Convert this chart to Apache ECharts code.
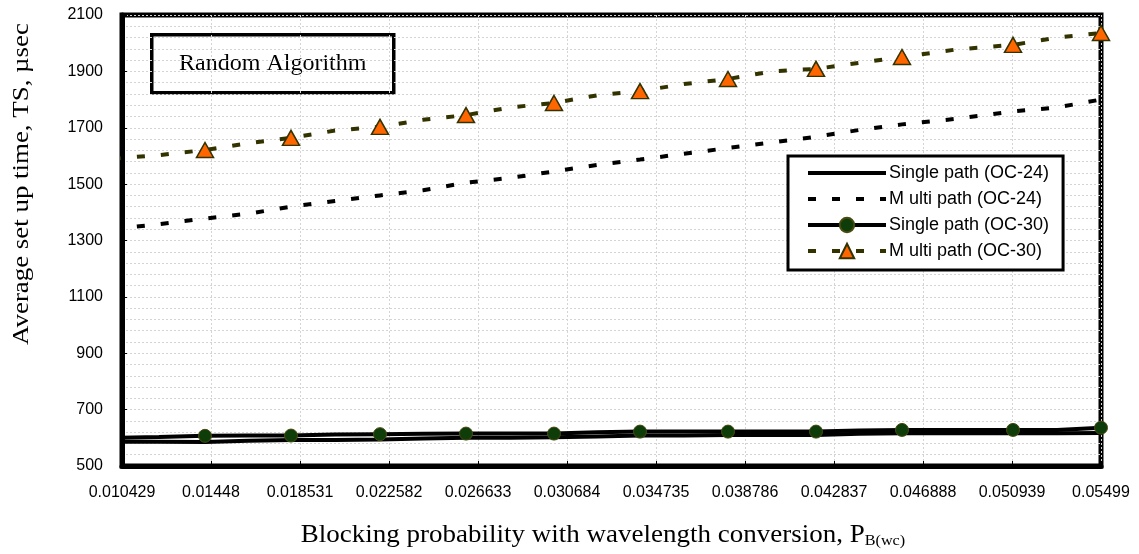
<!DOCTYPE html>
<html>
<head>
<meta charset="utf-8">
<script src="https://cdn.jsdelivr.net/npm/echarts@6/dist/echarts.min.js"></script>
<style>
html,body{margin:0;padding:0;background:#fff;}
#c{width:1139px;height:554px;}
</style>
</head>
<body>
<div id="c"></div>
<script>
// Tick labels of the x axis (blocking probability)
const xTickLabels = ['0.010429','0.01448','0.018531','0.022582','0.026633','0.030684','0.034735','0.038786','0.042837','0.046888','0.050939','0.05499'];
const xTickValues = xTickLabels.map(Number);
const yTickValues = [500, 700, 900, 1100, 1300, 1500, 1700, 1900, 2100];

// x positions of the plotted points
const xValues = [0.010019, 0.012113, 0.014207, 0.016164, 0.018121, 0.020124, 0.022172, 0.024130, 0.026087, 0.028090, 0.030092, 0.032049, 0.034007, 0.036010, 0.038012, 0.040015, 0.042018, 0.043975, 0.045932, 0.048436, 0.050985, 0.052988, 0.054990];

// Average set up time (usec)
const singleOC24 = [586, 586, 585, 590, 592, 592, 594, 598, 600, 600, 602, 605, 608, 608, 610, 610, 610, 614, 616, 616, 616, 616, 617];
const multiOC24  = [1340, 1358, 1378, 1395, 1420, 1440, 1460, 1478, 1505, 1522, 1545, 1568, 1587, 1608, 1628, 1648, 1668, 1692, 1712, 1732, 1758, 1772, 1800];
const singleOC30 = [600, 603, 607, 608, 608, 612, 613, 614, 615, 615, 615, 620, 622, 622, 622, 622, 622, 626, 628, 628, 628, 628, 636];
const multiOC30  = [1590, 1603, 1621, 1645, 1664, 1690, 1703, 1728, 1745, 1772, 1788, 1815, 1830, 1855, 1873, 1900, 1909, 1930, 1951, 1978, 1994, 2020, 2036];

const seriesNames = ['Single path (OC-24)', 'M ulti path (OC-24)', 'Single path (OC-30)', 'M ulti path (OC-30)'];

function pairs(ys) { return ys.map((y, i) => [xValues[i], y]); }
function markerSize(size) {
  return function (val, params) { return (params.dataIndex > 0 && params.dataIndex % 2 === 0) ? size : 0; };
}

const sans = "'Liberation Sans', Arial, sans-serif";
const serif = "'Liberation Serif', 'Times New Roman', serif";
const gridLine = { color: '#d4d4d4', width: 1, type: [2, 2] };

const chart = echarts.init(document.getElementById('c'), null, { renderer: 'canvas' });
chart.setOption({
  animation: false,
  backgroundColor: '#fff',
  grid: { left: 122, right: 38, top: 15, bottom: 88, show: true, borderColor: '#000', borderWidth: 5, backgroundColor: 'transparent' },
  xAxis: {
    type: 'value', min: xTickValues[0], max: xTickValues[xTickValues.length - 1],
    axisLine: { show: true, onZero: false, lineStyle: { color: '#000', width: 5 } },
    axisTick: { show: true, inside: true, length: 5, customValues: xTickValues, lineStyle: { color: '#000', width: 1 } },
    axisLabel: {
      customValues: xTickValues, margin: 19, color: '#000', fontSize: 16, fontFamily: sans,
      formatter: function (v) {
        let best = 0;
        xTickValues.forEach((t, i) => { if (Math.abs(t - v) < Math.abs(xTickValues[best] - v)) best = i; });
        return xTickLabels[best];
      }
    },
    splitLine: { show: true, lineStyle: gridLine }
  },
  yAxis: {
    type: 'value', min: yTickValues[0], max: yTickValues[yTickValues.length - 1], interval: 200,
    axisLine: { show: true, lineStyle: { color: '#000', width: 5 } },
    axisTick: { show: true, inside: true, length: 5, lineStyle: { color: '#000', width: 1 } },
    axisLabel: { margin: 19, color: '#000', fontSize: 16, fontFamily: sans, formatter: function (v) { return String(v); } },
    splitLine: { show: true, lineStyle: gridLine },
    minorTick: { show: false, splitNumber: 5 },
    minorSplitLine: { show: true, lineStyle: gridLine }
  },
  legend: {
    orient: 'vertical', left: 788, top: 156,
    padding: [8, 14, 10, 18],
    backgroundColor: '#fff', borderColor: '#000', borderWidth: 3,
    itemWidth: 78, itemHeight: 18, itemGap: 8,
    lineStyle: { width: 4 },
    textStyle: { color: '#000', fontSize: 18, fontFamily: sans, padding: [0, 0, 0, -2] },
    data: [
      { name: seriesNames[0], itemStyle: { opacity: 0 } },
      { name: seriesNames[1], itemStyle: { opacity: 0 } },
      { name: seriesNames[2] },
      { name: seriesNames[3] }
    ]
  },
  graphic: [
    {
      type: 'group', left: 150, top: 33, z: 100,
      children: [
        { type: 'rect', shape: { x: 0, y: 0, width: 242, height: 58 }, style: { fill: '#fff', stroke: '#000', lineWidth: 3.5 } },
        { type: 'text', x: 121, y: 29, style: { text: 'Random Algorithm', font: "24px " + serif, fill: '#000', align: 'center', verticalAlign: 'middle' } }
      ]
    },
    {
      type: 'text', x: 22, y: 184, rotation: Math.PI / 2, scaleX: 1.12, z: 100,
      style: { text: 'Average set up time, TS, µsec', font: "24px " + serif, fill: '#000', align: 'center', verticalAlign: 'middle' }
    },
    {
      type: 'text', x: 603, y: 535, scaleX: 1.08, z: 100,
      style: {
        text: '{m|Blocking probability with wavelength conversion, P}{s|B(wc)}',
        align: 'center', verticalAlign: 'middle',
        rich: {
          m: { font: "25px " + serif, fill: '#000', color: '#000' },
          s: { font: "15px " + serif, fill: '#000', color: '#000', padding: [12, 0, 0, 0] }
        }
      }
    }
  ],
  series: [
    {
      name: seriesNames[0], type: 'line', data: pairs(singleOC24), clip: false,
      symbol: 'none', lineStyle: { color: '#000', width: 4 }, itemStyle: { color: '#000' }, z: 3
    },
    {
      name: seriesNames[1], type: 'line', data: pairs(multiOC24), clip: false,
      symbol: 'none', lineStyle: { color: '#000', width: 4, type: [8, 16], cap: 'butt' }, itemStyle: { color: '#000' }, z: 3
    },
    {
      name: seriesNames[2], type: 'line', data: pairs(singleOC30), clip: false,
      symbol: 'circle', symbolSize: markerSize(13), showSymbol: true,
      lineStyle: { color: '#000', width: 4 },
      itemStyle: { color: '#0f3d0a', borderColor: '#4a4a10', borderWidth: 1 }, z: 4
    },
    {
      name: seriesNames[3], type: 'line', data: pairs(multiOC30), clip: false,
      symbol: 'triangle', symbolSize: markerSize([17, 15]), showSymbol: true,
      lineStyle: { color: '#333300', width: 4, type: [8, 16], cap: 'butt' },
      itemStyle: { color: '#ff6600', borderColor: '#333300', borderWidth: 1.5 }, z: 4
    }
  ]
});
</script>
</body>
</html>
